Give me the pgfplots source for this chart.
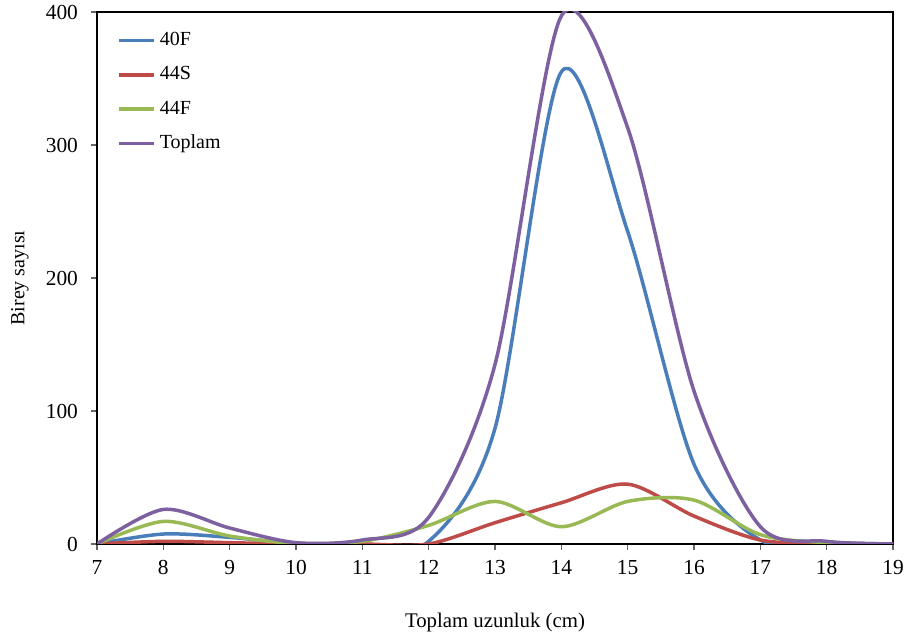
\documentclass[border=0pt]{standalone}
\usepackage{pgfplots}
\pgfplotsset{compat=1.18}
\usepackage{fontspec}
\setmainfont{Liberation Serif}
\definecolor{cBlue}{HTML}{4A7EBB}
\definecolor{cRed}{HTML}{BE4B48}
\definecolor{cGreen}{HTML}{98B954}
\definecolor{cPurple}{HTML}{7D60A0}
\begin{document}
\begin{tikzpicture}
\useasboundingbox (-48.5pt,-48.5pt) rectangle (406pt,272pt);
\begin{axis}[
  scale only axis,
  width=398pt, height=266pt,
  at={(0,0)}, anchor=south west,
  xmin=7, xmax=19, ymin=0, ymax=400,
  xtick={7,8,...,19}, ytick={0,100,200,300,400},
  tick align=outside, tick pos=left,
  major tick length=3pt,
  tick style={black!60, line width=0.6pt},
  axis line style={black, line width=1.1pt},
  /pgf/number format/assume math mode=true,
  ticklabel style={font=\fontsize{10.7}{12}\selectfont},
  xticklabel style={yshift=-1.5pt},
  yticklabel style={xshift=-3pt},
  xlabel={Toplam uzunluk (cm)},
  ylabel={Birey sayısı},
  xlabel style={font=\fontsize{10.4}{12}\selectfont, at={(axis description cs:0.5,0)}, anchor=center, yshift=-39pt},
  ylabel style={font=\fontsize{10}{12}\selectfont, at={(axis description cs:0,0.5)}, anchor=center, rotate=0, yshift=38.5pt},
  legend style={draw=none, fill=none, at={(0.025,0.97)}, anchor=north west,
    font=\fontsize{10}{11.5}\selectfont, row sep=5pt, inner sep=0pt},
  legend cell align=left,
  legend image code/.code={\draw[#1, line width=1.75pt] (0pt,0pt) -- (17.5pt,0pt);},
  every axis plot/.append style={line width=1.75pt, smooth, no marks},
]
\addplot[cBlue] coordinates {(7,0) (8,7.5) (9,5) (10,0.5) (11,0) (12,2) (13,87) (14,355) (15,235) (16,60) (17,3) (18,1) (19,0)};
\addlegendentry{40F}
\addplot[cRed] coordinates {(7,0) (8,2) (9,1) (10,0) (11,0) (12,0) (13,16) (14,31) (15,45) (16,21) (17,3) (18,0.5) (19,0)};
\addlegendentry{44S}
\addplot[cGreen] coordinates {(7,0) (8,17) (9,6) (10,0.5) (11,2) (12,14) (13,32) (14,13) (15,32) (16,33) (17,7) (18,1) (19,0)};
\addlegendentry{44F}
\addplot[cPurple] coordinates {(7,0) (8,26) (9,12) (10,1) (11,3) (12,20) (13,135) (14,397) (15,313) (16,115) (17,13) (18,2) (19,0)};
\addlegendentry{Toplam}
\end{axis}
\end{tikzpicture}
\end{document}
